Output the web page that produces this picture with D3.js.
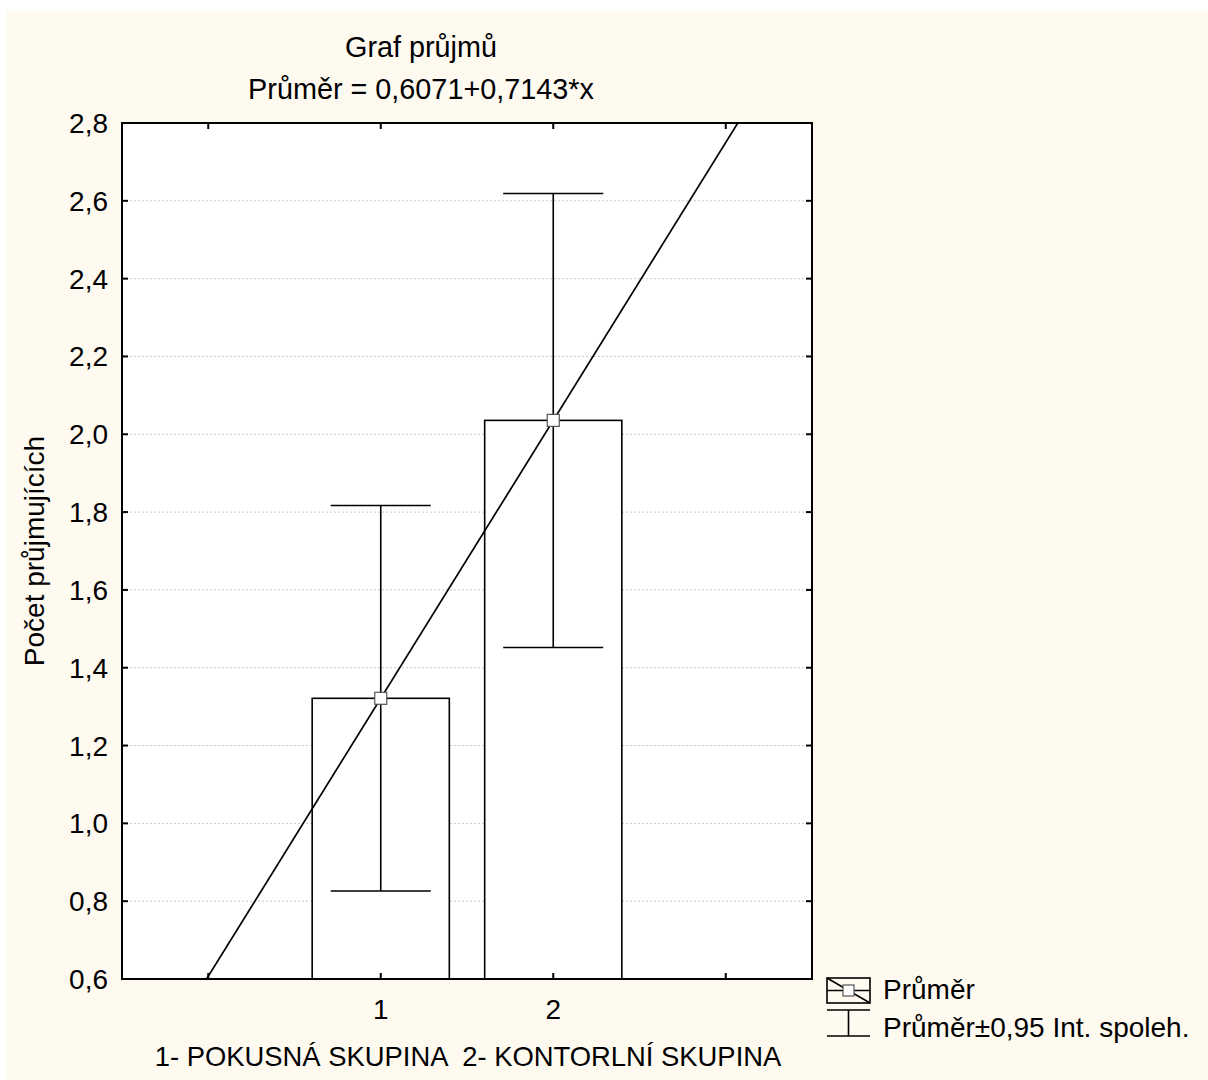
<!DOCTYPE html>
<html><head><meta charset="utf-8">
<script src="https://cdn.jsdelivr.net/npm/d3@7"></script>
<style>
html,body{margin:0;padding:0;background:#fff;}
svg{display:block;}
text{font-family:"Liberation Sans",Arial,sans-serif;fill:#000;}
</style></head><body>
<svg id="chart" width="1208" height="1080"></svg>
<script>
// ---- data ----
const titleLines = ["Graf průjmů", "Průměr = 0,6071+0,7143*x"];
const categories = [1, 2];
const categoryLabels = ["1", "2"];
const means = [1.3214, 2.0357];
const ciLow = [0.826, 1.452];
const ciHigh = [1.817, 2.619];
const regIntercept = 0.6071;
const regSlope = 0.7143;
const yTicks = [0.6, 0.8, 1.0, 1.2, 1.4, 1.6, 1.8, 2.0, 2.2, 2.4, 2.6, 2.8];
const xTicks = [0, 1, 2, 3];
const xDomain = [-0.5, 3.5];
const yDomain = [0.6, 2.8];
const yLabel = "Počet průjmujících";
const xLabel = "1- POKUSNÁ SKUPINA  2- KONTORLNÍ SKUPINA";
const legendItems = ["Průměr", "Průměr±0,95 Int. spoleh."];

// ---- layout ----
const svg = d3.select("#chart");
const L = 122, R = 812, T = 123, B = 979;
const FS = 28;
svg.append("rect").attr("x", 6).attr("y", 11).attr("width", 1202).attr("height", 1069).attr("fill", "#fefaf0");

const x = d3.scaleLinear().domain(xDomain).range([L, R]);
const y = d3.scaleLinear().domain(yDomain).range([B, T]);
const fmt = v => d3.format(".1f")(v).replace(".", ",");

svg.append("rect").attr("x", L).attr("y", T).attr("width", R - L).attr("height", B - T).attr("fill", "#fff");

// grid
svg.append("g").selectAll("line").data(yTicks.slice(1, -1)).join("line")
  .attr("x1", L).attr("x2", R).attr("y1", d => y(d)).attr("y2", d => y(d))
  .attr("stroke", "#c8c8c8").attr("stroke-width", 1).attr("stroke-dasharray", "2,2");

// bars
const step = x(1) - x(0);
const bw = step * 0.795;
svg.append("g").selectAll("rect").data(categories).join("rect")
  .attr("x", (d) => x(d) - bw / 2).attr("width", bw)
  .attr("y", (d, i) => y(means[i])).attr("height", (d, i) => y(yDomain[0]) - y(means[i]))
  .attr("fill", "#fff").attr("stroke", "#000").attr("stroke-width", 1.6);

// regression line (clipped)
svg.append("clipPath").attr("id", "clip").append("rect").attr("x", L).attr("y", T).attr("width", R - L).attr("height", B - T);
const lineX = [xDomain[0], xDomain[1]];
svg.append("path").attr("clip-path", "url(#clip)")
  .attr("d", d3.line().x(d => x(d)).y(d => y(regIntercept + regSlope * d))(lineX))
  .attr("stroke", "#000").attr("stroke-width", 1.7).attr("fill", "none");

// error bars
const capW = step * 0.58;
const eg = svg.append("g").attr("stroke", "#000").attr("stroke-width", 1.6);
categories.forEach((c, i) => {
  eg.append("line").attr("x1", x(c)).attr("x2", x(c)).attr("y1", y(ciLow[i])).attr("y2", y(ciHigh[i]));
  eg.append("line").attr("x1", x(c) - capW / 2).attr("x2", x(c) + capW / 2).attr("y1", y(ciLow[i])).attr("y2", y(ciLow[i]));
  eg.append("line").attr("x1", x(c) - capW / 2).attr("x2", x(c) + capW / 2).attr("y1", y(ciHigh[i])).attr("y2", y(ciHigh[i]));
});

// markers
svg.append("g").selectAll("rect").data(categories).join("rect")
  .attr("x", d => x(d) - 6).attr("y", (d, i) => y(means[i]) - 6).attr("width", 12).attr("height", 12)
  .attr("fill", "#fff").attr("stroke", "#555").attr("stroke-width", 1.2);

// frame
svg.append("rect").attr("x", L).attr("y", T).attr("width", R - L).attr("height", B - T)
  .attr("fill", "none").attr("stroke", "#000").attr("stroke-width", 2);

// ticks (inward)
const tk = svg.append("g").attr("stroke", "#000").attr("stroke-width", 2);
yTicks.forEach(v => {
  tk.append("line").attr("x1", L).attr("x2", L + 6).attr("y1", y(v)).attr("y2", y(v));
  tk.append("line").attr("x1", R - 6).attr("x2", R).attr("y1", y(v)).attr("y2", y(v));
});
xTicks.forEach(v => {
  tk.append("line").attr("x1", x(v)).attr("x2", x(v)).attr("y1", T).attr("y2", T + 6);
  tk.append("line").attr("x1", x(v)).attr("x2", x(v)).attr("y1", B - 6).attr("y2", B);
});

// y tick labels
svg.append("g").selectAll("text").data(yTicks).join("text")
  .attr("x", 108).attr("y", d => y(d) + 10).attr("text-anchor", "end").attr("font-size", FS)
  .text(fmt);

// x tick labels
svg.append("g").selectAll("text").data(categories).join("text")
  .attr("x", d => x(d)).attr("y", 1019).attr("text-anchor", "middle").attr("font-size", FS)
  .text((d, i) => categoryLabels[i]);

// titles
svg.append("text").attr("x", 421).attr("y", 57).attr("text-anchor", "middle").attr("font-size", 28.8).text(titleLines[0]);
svg.append("text").attr("x", 421).attr("y", 99).attr("text-anchor", "middle").attr("font-size", 28.8).text(titleLines[1]);

// axis labels
svg.append("text").attr("x", 468).attr("y", 1066).attr("text-anchor", "middle").attr("font-size", 27.4).attr("xml:space", "preserve").style("white-space", "pre").text(xLabel);
svg.append("text").attr("transform", `translate(44,${(T + B) / 2}) rotate(-90)`).attr("text-anchor", "middle").attr("font-size", FS).text(yLabel);

// legend
const lg = svg.append("g").attr("stroke", "#000").attr("fill", "none").attr("stroke-width", 1.6);
lg.append("rect").attr("x", 827).attr("y", 978).attr("width", 43).attr("height", 25);
lg.append("line").attr("x1", 827).attr("x2", 870).attr("y1", 990.5).attr("y2", 990.5);
lg.append("line").attr("x1", 827).attr("x2", 870).attr("y1", 978).attr("y2", 1003);
lg.append("rect").attr("x", 843).attr("y", 985).attr("width", 11).attr("height", 11).attr("fill", "#fff").attr("stroke", "#555").attr("stroke-width", 1.2);
lg.append("line").attr("x1", 827).attr("x2", 870).attr("y1", 1010).attr("y2", 1010);
lg.append("line").attr("x1", 848.5).attr("x2", 848.5).attr("y1", 1010).attr("y2", 1036);
lg.append("line").attr("x1", 827).attr("x2", 870).attr("y1", 1036).attr("y2", 1036);
svg.append("text").attr("x", 883).attr("y", 999).attr("font-size", FS).text(legendItems[0]);
svg.append("text").attr("x", 883).attr("y", 1037).attr("font-size", FS).text(legendItems[1]);
</script>
</body></html>
